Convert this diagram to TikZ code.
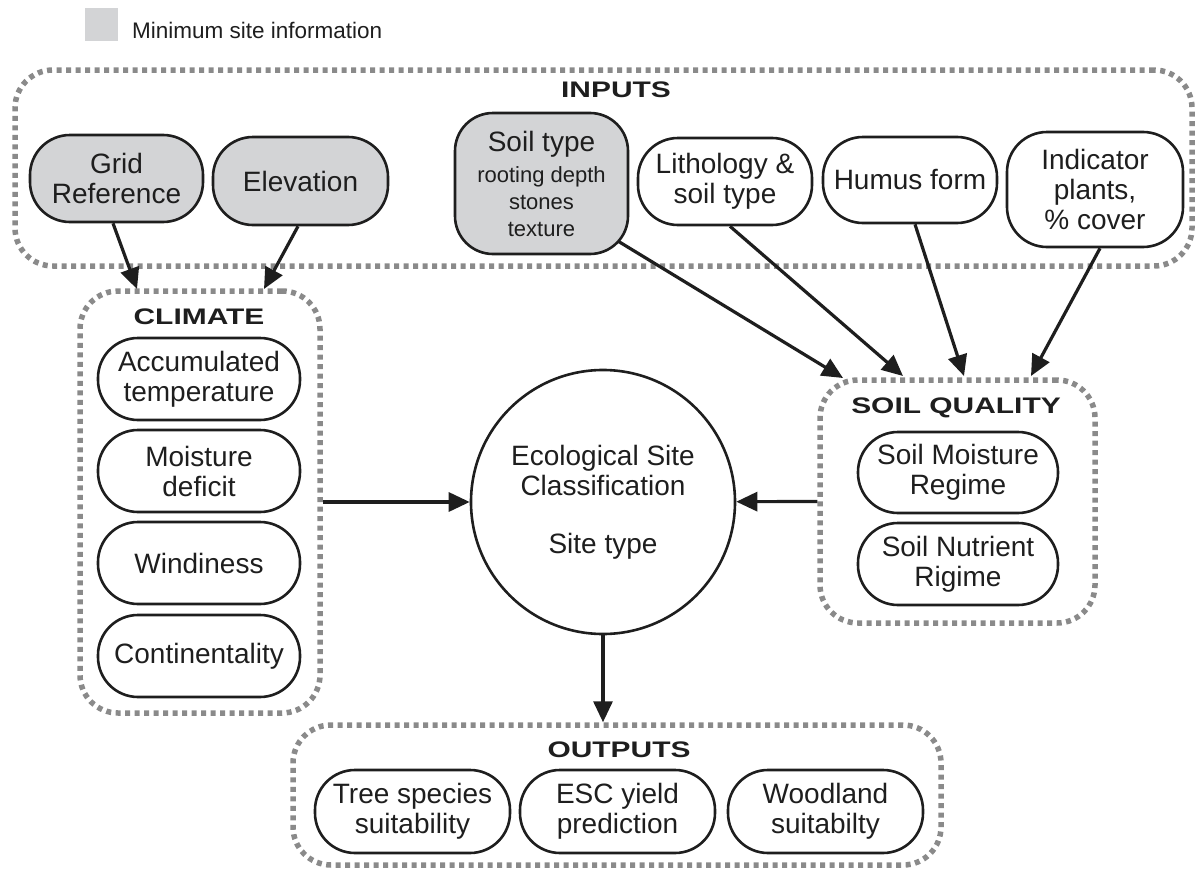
\documentclass[tikz,border=0pt]{standalone}
\usepackage{fontspec}
\setmainfont{Liberation Sans}
\newfontfamily\hdrfont[FakeStretch=1.33]{Liberation Sans}
\usetikzlibrary{arrows.meta,calc}
\definecolor{dotgray}{HTML}{8A8A8A}
\definecolor{boxgray}{HTML}{D3D4D6}
\definecolor{ink}{HTML}{1E1E1E}
\begin{document}
\begin{tikzpicture}[x=1pt,y=-1pt,
  group/.style={draw=dotgray, line width=5.5pt, dash pattern=on 5pt off 4.5pt,
    rounded corners=38pt, inner sep=0pt},
  item/.style={draw=ink, line width=2.6pt, rounded corners=40pt, align=center,
    font=\fontsize{28}{30}\selectfont, text=ink, inner sep=0pt},
  minfo/.style={item, fill=boxgray},
  hdr/.style={font=\hdrfont\bfseries\fontsize{22.5}{24}\selectfont, text=ink, inner sep=0pt},
  arr/.style={draw=ink, line width=3.2pt, -{Triangle[length=21pt,width=19pt]}}
]
\useasboundingbox (0,0) rectangle (1195,870);

% legend
\node[fill=boxgray, minimum size=33pt, inner sep=0pt] (legsq) at (101.5,24) {};
\node[anchor=west, font=\fontsize{22.5}{24}\selectfont, text=ink, inner sep=0pt] (legtxt) at (132,30) {Minimum site information};

% group boxes
\node[group, minimum width=1177pt, minimum height=196pt] (inbox) at (603.5,168) {};
\node[group, minimum width=240pt, minimum height=422pt] (climbox) at (200,502) {};
\node[group, minimum width=275pt, minimum height=243pt] (sqbox) at (957.5,501.5) {};
\node[group, minimum width=648pt, minimum height=140pt] (outbox) at (617,795) {};

% headers
\node[hdr] (inlbl) at (616,90) {INPUTS};
\node[hdr] (climlbl) at (199,317) {CLIMATE};
\node[hdr] (sqlbl) at (956,408) {SOIL QUALITY};
\node[hdr] (outlbl) at (619,750) {OUTPUTS};

% inputs
\node[minfo, minimum width=173pt, minimum height=87pt] (grid) at (116.5,178.5) {Grid\\Reference};
\node[minfo, minimum width=175pt, minimum height=88pt] (elev) at (300.5,181) {Elevation};
\node[minfo, rounded corners=38pt, minimum width=173pt, minimum height=141pt,
  font=\fontsize{22}{27}\selectfont] (soil) at (541.5,183.5)
  {{\fontsize{28}{27}\selectfont Soil type}\\[4pt]rooting depth\\stones\\texture};
\node[item, minimum width=174pt, minimum height=87pt] (lith) at (725,181.5) {Lithology \&\\soil type};
\node[item, minimum width=174pt, minimum height=86pt] (humus) at (910,180) {Humus form};
\node[item, minimum width=176pt, minimum height=115pt] (indic) at (1095,189.5) {Indicator\\plants,\\\% cover};

% climate
\node[item, minimum width=202pt, minimum height=82pt] (acc) at (199,379) {Accumulated\\temperature};
\node[item, minimum width=202pt, minimum height=82pt] (moist) at (199,471) {Moisture\\deficit};
\node[item, minimum width=202pt, minimum height=82pt] (wind) at (199,563) {Windiness};
\node[item, minimum width=202pt, minimum height=82pt] (cont) at (199,656) {Continentality};

% soil quality
\node[item, minimum width=200pt, minimum height=81pt] (smr) at (958,472.5) {Soil Moisture\\Regime};
\node[item, minimum width=200pt, minimum height=82pt] (snr) at (958,564) {Soil Nutrient\\Rigime};

% centre
\node[draw=ink, line width=2.6pt, circle, minimum size=264pt, inner sep=0pt, align=center,
  font=\fontsize{28}{30}\selectfont, text=ink] (circ) at (603,502)
  {Ecological Site\\Classification\\[28pt]Site type};

% outputs
\node[item, minimum width=195pt, minimum height=83pt] (tree) at (412.5,811.5) {Tree species\\suitability};
\node[item, minimum width=195pt, minimum height=83pt] (esc) at (617.5,811.5) {ESC yield\\prediction};
\node[item, minimum width=195pt, minimum height=83pt] (wood) at (825.5,811.5) {Woodland\\suitabilty};

% arrow tips
\coordinate (t1) at (137,289);
\coordinate (t2) at (264,289);
\coordinate (t3) at (843,378);
\coordinate (t4) at (903,376);
\coordinate (t5) at (964,376);
\coordinate (t6) at (1031,376);

% connectors
\draw[arr] ($(grid.south)+(-3.5,0)$) -- (t1);
\draw[arr] ($(elev.south)+(-2.5,0)$) -- (t2);
\draw[arr] ($(soil.south east)+(-11,-14)$) -- (t3);
\draw[arr] ($(lith.south)+(5,0)$) -- (t4);
\draw[arr] ($(humus.south)+(5,0)$) -- (t5);
\draw[arr] ($(indic.south)+(5,0)$) -- (t6);
\draw[arr] (climbox.east) -- (circ.west);
\draw[arr] (sqbox.west) -- (circ);
\draw[arr] (circ.south) -- (circ.south |- outbox.north);
\end{tikzpicture}
\end{document}
